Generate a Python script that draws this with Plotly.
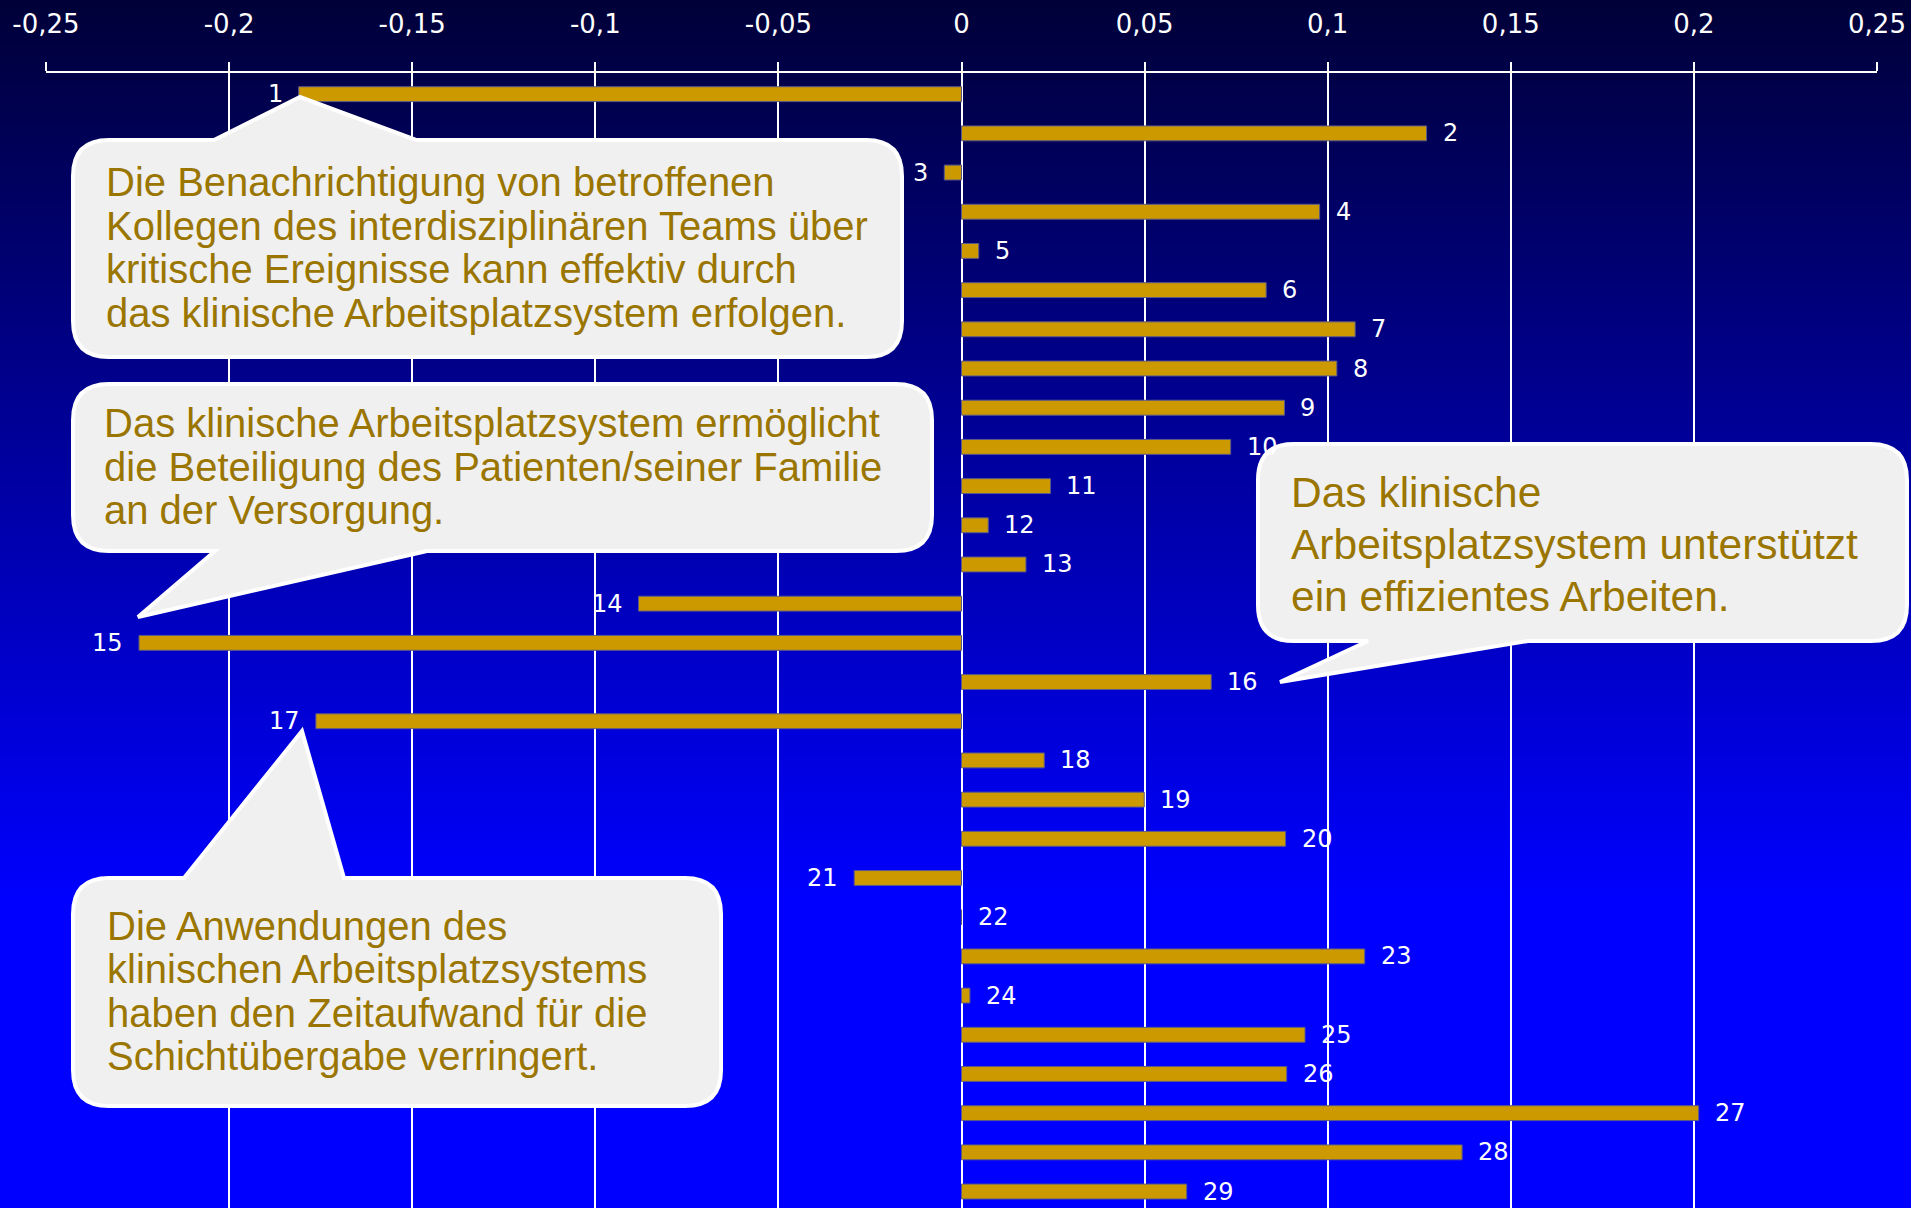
import base64
import struct
import zlib

import plotly.graph_objects as go

# ---------------- data ----------------
items = [str(i) for i in range(1, 30)]
values = [-0.181, 0.127, -0.0047, 0.0978, 0.0047, 0.0832, 0.1075, 0.1025, 0.0882,
          0.0735, 0.0243, 0.0073, 0.0176, -0.0882, -0.2246, 0.0682, -0.1763, 0.0226,
          0.0499, 0.0885, -0.0293, 0.0, 0.1101, 0.0023, 0.0938, 0.0888, 0.2013,
          0.1367, 0.0615]
tick_vals = [-0.25, -0.2, -0.15, -0.1, -0.05, 0, 0.05, 0.1, 0.15, 0.2, 0.25]
tick_text = ["-0,25", "-0,2", "-0,15", "-0,1", "-0,05", "0", "0,05", "0,1", "0,15", "0,2", "0,25"]

callout_texts = [
    ["Die Benachrichtigung von betroffenen",
     "Kollegen des interdisziplinären Teams über",
     "kritische Ereignisse kann effektiv durch",
     "das klinische Arbeitsplatzsystem erfolgen."],
    ["Das klinische Arbeitsplatzsystem ermöglicht",
     "die Beteiligung des Patienten/seiner Familie",
     "an der Versorgung."],
    ["Das klinische",
     "Arbeitsplatzsystem unterstützt",
     "ein effizientes Arbeiten."],
    ["Die Anwendungen des",
     "klinischen Arbeitsplatzsystems",
     "haben den Zeitaufwand für die",
     "Schichtübergabe verringert."],
]

# ---------------- layout geometry (pixels) ----------------
W, H = 1911, 1208
ML, MR, MT, MB = 46, 34, 73, 0
PW, PH = W - ML - MR, H - MT - MB


def px(x):
    return (x - ML) / PW


def py(y):
    return (H - MB - y) / PH


callouts = [
    dict(box=(73, 140, 902, 357), side="top", tail=(214, 300, 97, 416),
         tx=104, ty=182, step=43.5, size=40),
    dict(box=(73, 384, 932, 551), side="bottom", tail=(215, 138, 617, 427),
         tx=102, ty=423, step=43.5, size=40),
    dict(box=(1258, 444, 1907, 641), side="bottom", tail=(1368, 1280, 682, 1528),
         tx=1289, ty=492, step=52, size=42.5),
    dict(box=(73, 878, 721, 1106), side="top", tail=(184, 302, 731, 344),
         tx=105, ty=926, step=43.3, size=40),
]


def callout_path(c, r=36):
    x0, y0, x1, y1 = c["box"]
    a, ax_, ay_, b = c["tail"]
    pts = [("M", [(x0 + r, y0)])]
    if c["side"] == "top":
        pts += [("L", [(a, y0)]), ("L", [(ax_, ay_)]), ("L", [(b, y0)])]
    pts += [("L", [(x1 - r, y0)]), ("Q", [(x1, y0), (x1, y0 + r)]),
            ("L", [(x1, y1 - r)]), ("Q", [(x1, y1), (x1 - r, y1)])]
    if c["side"] == "bottom":
        pts += [("L", [(b, y1)]), ("L", [(ax_, ay_)]), ("L", [(a, y1)])]
    pts += [("L", [(x0 + r, y1)]), ("Q", [(x0, y1), (x0, y1 - r)]),
            ("L", [(x0, y0 + r)]), ("Q", [(x0, y0), (x0 + r, y0)])]
    s = ""
    for cmd, ps in pts:
        s += cmd + " " + " ".join(f"{px(x):.5f},{py(y):.5f}" for x, y in ps) + " "
    return s + "Z"


def gradient_png(h):
    raw = bytearray()
    for y in range(h):
        t = min(1.0, y / 900.0)
        bl = int(round(56 + (255 - 56) * t))
        raw += bytes([0, 0, 0, bl])

    def chunk(tag, data):
        c = struct.pack(">I", len(data)) + tag + data
        return c + struct.pack(">I", zlib.crc32(tag + data) & 0xFFFFFFFF)

    png = (b"\x89PNG\r\n\x1a\n"
           + chunk(b"IHDR", struct.pack(">IIBBBBB", 1, h, 8, 2, 0, 0, 0))
           + chunk(b"IDAT", zlib.compress(bytes(raw)))
           + chunk(b"IEND", b""))
    return "data:image/png;base64," + base64.b64encode(png).decode()


# ---------------- figure ----------------
fig = go.Figure()
fig.add_trace(go.Bar(
    x=values, y=items, orientation="h",
    marker=dict(color="#CC9900", line=dict(color="#5a5a8a", width=1)),
    hoverinfo="skip", showlegend=False,
))

annotations = []
for idx, (it, v) in enumerate(zip(items, values)):
    neg = v < 0
    annotations.append(dict(
        x=v, y=idx, xref="x", yref="y", text=it, showarrow=False,
        xanchor="right" if neg else "left", xshift=-14 if neg else 14,
        font=dict(family="DejaVu Sans", size=24, color="white"),
    ))

shapes = []
for c, lines in zip(callouts, callout_texts):
    shapes.append(dict(
        type="path", path=callout_path(c), xref="paper", yref="paper",
        fillcolor="#F0F0F0", line=dict(color="white", width=4), layer="above",
    ))
    for i, line in enumerate(lines):
        annotations.append(dict(
            x=px(c["tx"]), y=py(c["ty"] + i * c["step"]), xref="paper", yref="paper",
            text=line, showarrow=False, xanchor="left", yanchor="middle", align="left",
            font=dict(family="Liberation Sans", size=c["size"], color="#9A7600"),
        ))

fig.update_layout(
    width=W, height=H,
    margin=dict(l=ML, r=MR, t=MT, b=MB),
    paper_bgcolor="#000038",
    plot_bgcolor="rgba(0,0,0,0)",
    bargap=0.62,
    showlegend=False,
    images=[dict(
        source=gradient_png(H), xref="paper", yref="paper",
        x=-ML / PW, y=1 + MT / PH, sizex=W / PW, sizey=H / PH,
        xanchor="left", yanchor="top", sizing="stretch", layer="below",
    )],
    shapes=shapes,
    annotations=annotations,
    xaxis=dict(
        side="top", range=[-0.25, 0.25], tickvals=tick_vals, ticktext=tick_text,
        showgrid=True, gridcolor="white", gridwidth=1.5, zeroline=False,
        showline=True, linecolor="white", linewidth=2,
        ticks="outside", ticklen=9, tickwidth=1.5, tickcolor="white",
        ticklabelstandoff=19,
        tickfont=dict(family="DejaVu Sans", size=26, color="white"),
    ),
    yaxis=dict(
        type="category", range=[28.42, -0.54], showgrid=False, zeroline=False,
        showticklabels=False, showline=False, ticks="",
    ),
)

fig.write_html(
    "out.html",
    config={"displayModeBar": False},
    post_script="document.body.style.margin='0';document.body.style.overflow='hidden';",
)
